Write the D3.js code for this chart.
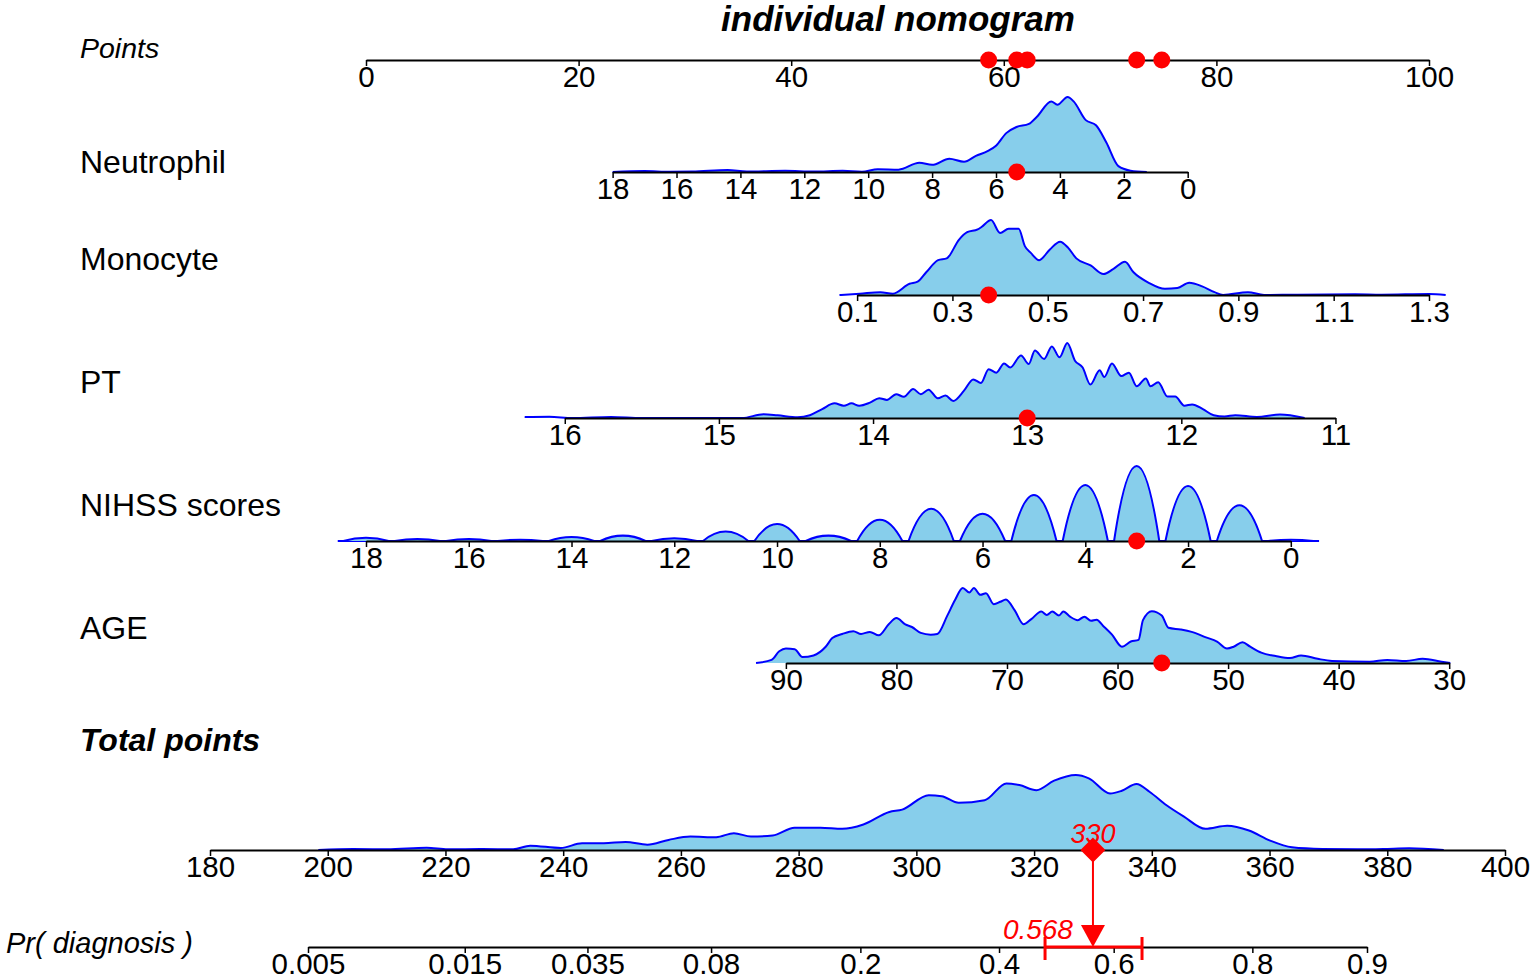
<!DOCTYPE html>
<html>
<head>
<meta charset="utf-8">
<script src="https://cdn.jsdelivr.net/npm/d3@7"></script>
<style>
  body { margin: 0; background: #fff; }
  text { font-family: "Liberation Sans", Arial, Helvetica, sans-serif; }
</style>
</head>
<body>
<script>
// values
var pointTicks = [0, 20, 40, 60, 80, 100];

var neutrophilTicks = [18, 16, 14, 12, 10, 8, 6, 4, 2, 0];
var neutrophilPts = [23.2, 77.3];          // points at 18 and at 0
var neutrophilDens = [[18,0],[17,1],[16.2,0.2],[15.5,0.4],[14.4,2],[13.8,0.4],[12.6,1.1],[11.7,0.4],[10.8,1.1],[10.2,0.3],
  [9.7,2.7],[9.05,2.3],[8.4,9],[8.0,7],[7.46,13],[7.0,10],[6.63,15.7],[6.25,20.7],[6.0,25.7],[5.68,38],[5.36,44],
  [4.97,47],[4.72,54],[4.27,69],[4.08,65.7],[3.76,73.3],[3.57,69],[3.19,50.7],[2.87,45.7],[2.55,29],[2.17,5.7],[1.79,1.3],[1.28,0]];

var monocyteTicks = [0.1, 0.3, 0.5, 0.7, 0.9, 1.1, 1.3];
var monocytePts = [46.2, 100];             // points at 0.1 and at 1.3
var monocyteDens = [[0.063,0],[0.106,1.3],[0.149,2.7],[0.175,1.3],[0.21,10.7],[0.227,12.7],[0.245,21.7],[0.27,33.3],[0.288,35],
  [0.314,53],[0.331,60],[0.353,62.7],[0.361,65],[0.381,71.7],[0.4,59.3],[0.418,63.3],[0.439,63.3],[0.452,46.7],[0.465,40],
  [0.482,33.3],[0.504,43.3],[0.526,51],[0.543,45],[0.56,35],[0.59,28.3],[0.617,20],[0.638,25],[0.662,31.7],[0.68,21.7],
  [0.712,11.7],[0.746,6],[0.772,6.7],[0.797,11.7],[0.824,8.3],[0.85,2.7],[0.868,0],[0.92,2.7],[0.954,0],[1.015,0.3],
  [1.145,0.7],[1.2,0.3],[1.3,1],[1.335,0]];

var ptTicks = [16, 15, 14, 13, 12, 11];
var ptPts = [18.7, 91.2];                  // points at 16 and at 11
var ptDens = [[16.26,1],[16.1,1.2],[15.95,0],[15.7,1],[15.5,0],[14.85,0],[14.71,3.7],[14.62,2.7],[14.49,0.7],[14.41,2.7],
  [14.33,8.7],[14.25,14.3],[14.19,12],[14.14,14.3],[14.09,12],[14.02,15],[13.96,19.3],[13.91,17.7],[13.85,23.3],[13.8,20.7],
  [13.74,28.3],[13.69,23.3],[13.64,27.7],[13.58,19.3],[13.53,22],[13.48,16.7],[13.41,26.7],[13.35,37.7],[13.3,34.3],
  [13.25,47.7],[13.2,44.3],[13.15,53.3],[13.11,49.3],[13.04,61],[12.99,52.7],[12.95,66],[12.89,57.7],[12.84,70],[12.79,59.3],
  [12.74,73.3],[12.69,56],[12.64,49.3],[12.59,32.7],[12.53,46.7],[12.5,40],[12.45,53.3],[12.39,41],[12.34,44.3],[12.29,31],
  [12.23,38.7],[12.2,31],[12.15,35],[12.09,21],[12.04,21],[11.98,12],[11.93,13.3],[11.86,8.7],[11.79,2.7],[11.72,1.5],
  [11.65,2.7],[11.51,1],[11.36,3.3],[11.2,0]];

var nihssTicks = [18, 16, 14, 12, 10, 8, 6, 4, 2, 0];
var nihssPts = [0, 87.0];                  // points at 18 and at 0
var nihssScores = [18, 17, 16, 15, 14, 13, 12, 11, 10, 9, 8, 7, 6, 5, 4, 3, 2, 1, 0];
var nihssDens = [3.3, 2, 2, 1.3, 4, 5.3, 2.7, 9.3, 16.7, 5.3, 21, 31.7, 27, 45.3, 55.3, 74, 54.3, 35.3, 1.3];

var ageTicks = [90, 80, 70, 60, 50, 40, 30];
var agePts = [39.5, 101.9];                // points at 90 and at 30
var ageDens = [[92.7,0],[91.3,3],[90.6,11.3],[90,14],[89.2,13.3],[88.5,5.7],[87.5,7.3],[86.4,15.7],[85.8,24],[84.9,28],
  [83.9,30.7],[83.2,28],[82.4,30],[81.6,26.7],[80.7,37.3],[80,43.3],[79.2,37.3],[78.6,34.7],[77.8,29],[76.9,27.3],[76.3,28],
  [75.4,45.7],[74.7,60.7],[74,72.3],[73.4,68],[73,72.3],[72.4,65.7],[71.9,67.3],[71.2,56.7],[70.6,59],[70.1,61.3],[69.3,50.7],
  [68.5,37.3],[67.8,42.3],[66.9,49.7],[66.4,46.3],[65.9,49.7],[65.3,45.7],[64.9,49.7],[64.3,44.7],[63.6,41.3],[63,44.7],
  [62.4,40.7],[61.9,41.7],[61.3,35.7],[60.5,27.3],[59.6,15.7],[58.8,20.7],[58.1,22.3],[57.7,41.3],[56.9,50],[56,45.7],
  [55.4,34],[54.3,32.3],[53.3,30],[52,24.7],[51,20.7],[50.1,14],[49.5,15.7],[48.7,20],[48,15.7],[47,10],[45.7,6.7],
  [44.4,4.7],[43.4,7.3],[41.9,4],[40.6,2],[37.2,1.3],[35.6,3],[33.9,2],[32.4,4],[30.7,1.3],[29.9,0]];

var totalTicks = [180, 200, 220, 240, 260, 280, 300, 320, 340, 360, 380, 400];
var totalDens = [[198.4,0],[204.3,1],[210.1,0.7],[216.8,2.3],[220.4,0.7],[226.3,1],[231.5,0.7],[234.4,4.3],[239.6,2],
  [243.2,6.7],[246.9,6.7],[250.6,8],[254.3,5.3],[257.9,10],[261.6,13.3],[266,12.7],[269,16.7],[271.9,13.3],[275.6,14.3],
  [279.3,22],[283.7,22],[287.4,21],[291,25.3],[295.4,37.7],[297.6,40],[302.1,54.3],[304.3,53.3],[307.2,46.7],[311.6,49.3],
  [315.3,66],[317.5,64.3],[320.4,59.3],[323.4,68.7],[327.1,74.3],[329.3,71],[332.9,56],[334.9,58.7],[337.4,65.3],
  [339.6,57.7],[342.5,44.3],[345.4,33.3],[349.1,21],[352.8,24],[356.5,19.3],[360.1,9.3],[363.8,2.7],[369,1],[374.9,0.7],
  [379.3,1],[383.7,1.7],[389.6,0]];

var prTicks = [0.005, 0.015, 0.035, 0.08, 0.2, 0.4, 0.6, 0.8, 0.9];
var prLabels = ["0.005", "0.015", "0.035", "0.08", "0.2", "0.4", "0.6", "0.8", "0.9"];

// this patient: Neutrophil, Monocyte, PT, NIHSS, AGE
var patientValues = [5.35, 0.376, 13.0, 3, 56];
var totalPoints = 330;
var prediction = 0.568;
var predictionCI = [0.48, 0.647];

// ---- drawing ----
var svg = d3.select("body").append("svg")
    .attr("width", 1535)
    .attr("height", 980);

var blue = "#0000FF", fillBlue = "#87CEEB", red = "#FF0000";
var densH = 75;

var x = d3.scaleLinear().domain([0, 100]).range([366, 1429]);

function logit(p) { return Math.log(p / (1 - p)); }

function drawAxis(y, scale, ticks, fmt) {
    var g = svg.append("g").attr("transform", "translate(0," + y + ")");
    g.call(d3.axisBottom(scale)
        .tickValues(ticks)
        .tickFormat(fmt)
        .tickSize(6)
        .tickSizeOuter(0)
        .tickPadding(0));
    g.select(".domain").attr("stroke", "#000").attr("stroke-width", 2);
    g.selectAll(".tick line").attr("stroke", "#000").attr("stroke-width", 1.5);
    g.selectAll(".tick text")
        .attr("font-size", 29.5)
        .attr("font-family", "Liberation Sans, Arial, sans-serif")
        .attr("fill", "#000");
    return g;
}

function sideLabel(txt, y, opts) {
    opts = opts || {};
    svg.append("text")
        .attr("x", opts.x || 80)
        .attr("y", y)
        .attr("font-size", opts.size || 32)
        .attr("font-style", opts.italic ? "italic" : "normal")
        .attr("font-weight", opts.bold ? "bold" : "normal")
        .attr("fill", "#000")
        .text(txt);
}

function drawDensity(dens, sc, y) {
    var data = dens.slice().sort(function(a, b) { return sc(a[0]) - sc(b[0]); });
    var yD = d3.scaleLinear().domain([0, d3.max(data, function(d) { return d[1]; })]).range([y, y - densH]);
    var area = d3.area()
        .x(function(d) { return sc(d[0]); })
        .y0(y)
        .y1(function(d) { return yD(d[1]); })
        .curve(d3.curveMonotoneX);
    var line = d3.line()
        .x(function(d) { return sc(d[0]); })
        .y(function(d) { return yD(d[1]); })
        .curve(d3.curveMonotoneX);
    svg.append("path").datum(data).attr("d", area).attr("fill", fillBlue);
    svg.append("path").datum(data).attr("d", line)
        .attr("fill", "none").attr("stroke", blue).attr("stroke-width", 2);
}

// title
svg.append("text")
    .attr("x", 898).attr("y", 31)
    .attr("text-anchor", "middle")
    .attr("font-size", 35)
    .attr("font-weight", "bold")
    .attr("font-style", "italic")
    .text("individual nomogram");

// Points row
sideLabel("Points", 58, {italic: true, size: 28.5});
drawAxis(60, x, pointTicks, d3.format("d"));

var rows = [
    {label: "Neutrophil", ticks: neutrophilTicks, pts: neutrophilPts, dens: neutrophilDens, y: 172, ly: 173, fmt: d3.format("d")},
    {label: "Monocyte", ticks: monocyteTicks, pts: monocytePts, dens: monocyteDens, y: 295, ly: 270, fmt: d3.format(".1f")},
    {label: "PT", ticks: ptTicks, pts: ptPts, dens: ptDens, y: 418, ly: 393, fmt: d3.format("d")},
    {label: "NIHSS scores", ticks: nihssTicks, pts: nihssPts, dens: null, y: 541, ly: 516, fmt: d3.format("d")},
    {label: "AGE", ticks: ageTicks, pts: agePts, dens: ageDens, y: 663, ly: 639, fmt: d3.format("d")}
];

var pointDots = [];

rows.forEach(function(r, i) {
    var ptsOf = d3.scaleLinear().domain([r.ticks[0], r.ticks[r.ticks.length - 1]]).range(r.pts);
    var sc = d3.scaleLinear()
        .domain([r.ticks[0], r.ticks[r.ticks.length - 1]])
        .range([x(r.pts[0]), x(r.pts[1])]);

    sideLabel(r.label, r.ly);

    if (r.dens) {
        drawDensity(r.dens, sc, r.y);
    } else {
        // discrete scores: one arch per score value
        var yD = d3.scaleLinear().domain([0, d3.max(nihssDens)]).range([r.y, r.y - densH]);
        var half = 0.44;
        var bumps = nihssScores.map(function(s, k) { return [s, nihssDens[k]]; });
        svg.append("line")
            .attr("x1", sc(d3.max(nihssScores) + 0.55)).attr("x2", sc(d3.min(nihssScores) - 0.55))
            .attr("y1", r.y).attr("y2", r.y)
            .attr("stroke", blue).attr("stroke-width", 2);
        var arch = function(d, close) {
            var a = sc(d[0] + half), b = sc(d[0] - half);
            var p = d3.path();
            p.moveTo(Math.min(a, b), r.y);
            p.quadraticCurveTo(sc(d[0]), r.y - 2 * (r.y - yD(d[1])), Math.max(a, b), r.y);
            if (close) p.closePath();
            return p.toString();
        };
        svg.selectAll(null).data(bumps).enter().append("path")
            .attr("d", function(d) { return arch(d, true); })
            .attr("fill", fillBlue);
        svg.selectAll(null).data(bumps).enter().append("path")
            .attr("d", function(d) { return arch(d, false); })
            .attr("fill", "none").attr("stroke", blue).attr("stroke-width", 2);
    }

    drawAxis(r.y, sc, r.ticks, r.fmt);

    var v = patientValues[i];
    svg.append("circle")
        .attr("cx", sc(v)).attr("cy", r.y).attr("r", 8.5)
        .attr("fill", red);
    pointDots.push(ptsOf(v));
});

// patient points on the Points axis
svg.selectAll(".ptdot").data(pointDots).enter().append("circle")
    .attr("class", "ptdot")
    .attr("cx", function(d) { return x(d); })
    .attr("cy", 60)
    .attr("r", 8.5)
    .attr("fill", red);

// Total points
sideLabel("Total points", 751, {italic: true, bold: true, size: 32});
var xt = d3.scaleLinear().domain([180, 400]).range([210, 1505]);
drawDensity(totalDens, xt, 850);
drawAxis(850, xt, totalTicks, d3.format("d"));

// Pr( diagnosis )
sideLabel("Pr( diagnosis )", 953, {italic: true, size: 29, x: 6});
var xp = d3.scaleLinear().domain([logit(0.005), logit(0.9)]).range([308, 1367]);
drawAxis(947, xp, prTicks.map(logit), function(d, i) { return prLabels[i]; });

// confidence interval
var ciL = xp(logit(predictionCI[0])), ciR = xp(logit(predictionCI[1]));
svg.append("line").attr("x1", ciL).attr("x2", ciR).attr("y1", 947).attr("y2", 947)
    .attr("stroke", red).attr("stroke-width", 3);
[ciL, ciR].forEach(function(cx) {
    svg.append("line").attr("x1", cx).attr("x2", cx).attr("y1", 937).attr("y2", 960)
        .attr("stroke", red).attr("stroke-width", 3);
});

// arrow from total points to probability
var ax = xt(totalPoints);
svg.append("line").attr("x1", ax).attr("x2", ax).attr("y1", 850).attr("y2", 928)
    .attr("stroke", red).attr("stroke-width", 2);
svg.append("path")
    .attr("d", "M" + (ax - 12) + ",925L" + (ax + 12) + ",925L" + ax + ",947Z")
    .attr("fill", red);

svg.append("path")
    .attr("d", d3.symbol().type(d3.symbolSquare).size(313)())
    .attr("transform", "translate(" + ax + ",850) rotate(45)")
    .attr("fill", red);

svg.append("text")
    .attr("x", ax).attr("y", 843)
    .attr("text-anchor", "middle")
    .attr("font-size", 27).attr("font-style", "italic")
    .attr("fill", red)
    .text(totalPoints);

svg.append("text")
    .attr("x", ax - 20).attr("y", 939)
    .attr("text-anchor", "end")
    .attr("font-size", 28).attr("font-style", "italic")
    .attr("fill", red)
    .text(d3.format(".3f")(prediction));
</script>
</body>
</html>
